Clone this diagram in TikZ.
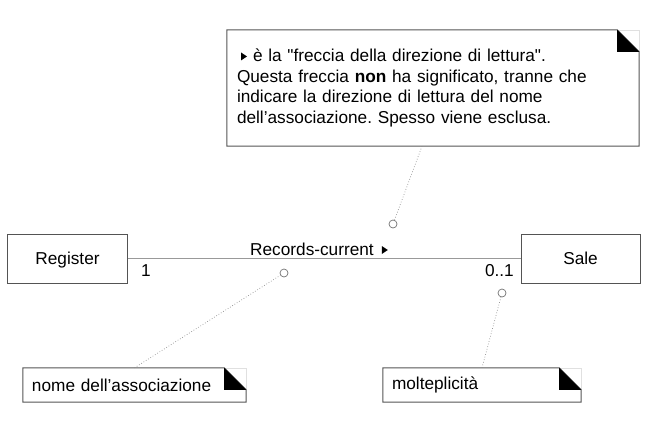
\documentclass[tikz,border=0pt]{standalone}
\usepackage{fontspec}
\newfontfamily\umlfont{Liberation Sans}
\usetikzlibrary{calc}
\frenchspacing
\def\readarrow{\tikz[x=1bp,y=1bp,baseline=0pt]\fill[black] (0,1.5) -- (0,9.5) -- (6,5.5) -- cycle;}
\def\dogear(#1)(#2){\draw[black!12, line width=0.6bp] ([xshift=-#2]#1.north east) -- (#1.north east) -- ([yshift=-#2]#1.north east);
	\draw[noteedge] (#1.north west) -- ([xshift=-#2]#1.north east) -- ([yshift=-#2]#1.north east) -- (#1.south east) -- (#1.south west) -- cycle;
	\fill[black] ([xshift=-#2]#1.north east) -- ([xshift=-#2,yshift=-#2]#1.north east) -- ([yshift=-#2]#1.north east) -- cycle;}
\tikzset{
	classbox/.style={draw=black!67, line width=1bp, minimum width=119bp, minimum height=49bp, inner sep=0pt, text height=12.4bp, text depth=0bp},
	notebox/.style={inner ysep=0pt, inner xsep=10bp, align=left},
	noteedge/.style={draw=black!67, line width=1bp},
	assocline/.style={draw=black!40, line width=1.3bp},
	hookpt/.style={circle, draw=black!55, fill=white, line width=0.7bp, minimum size=8bp, inner sep=0pt},
	noteline/.style={draw=black!45, line width=0.7bp, dotted},
	rolelabel/.style={inner sep=0pt}
}

\begin{document}
\begin{tikzpicture}[x=1bp, y=-1bp, every node/.style={font=\umlfont\fontsize{17.3}{20.5}\selectfont}]
			%%%%% START %%%%%
			\useasboundingbox (0,0) rectangle (649,423);
			
			\node[classbox] (register) at (67.5,258.5) {Register};
			\node[classbox] (sale) at (580.5,258.5) {Sale};
			\draw[assocline] (register.east) -- (sale.west);
			
			\node[rolelabel, anchor=base west] (assocname) at (250,255.5) {Records-current\hspace{8bp}\readarrow};
			\node[rolelabel, anchor=base west] (regmult) at (141,276) {1};
			\node[rolelabel, anchor=base east] (salemult) at (514,276) {0..1};
			
			\node[notebox, text width=392bp, minimum width=412bp, minimum height=116bp] (readnote) at (433,88) {\hspace*{4bp}\readarrow\hspace{6bp}è la "freccia della direzione di lettura".\\ Questa freccia \textbf{non} ha significato, tranne che\\ indicare la direzione di lettura del nome\\ dell’associazione. Spesso viene esclusa.};
			\node[notebox, inner xsep=9bp, text width=205bp, minimum width=223bp, minimum height=34bp] (namenote) at (134.5,385) {nome dell’associazione};
			\node[notebox, inner xsep=9bp, text width=180bp, minimum width=198bp, minimum height=34bp] (multnote) at (482,385) {molteplicità};
			\dogear(readnote)(22bp)
			\dogear(namenote)(22bp)
			\dogear(multnote)(22bp)
			
			\node[hookpt] (hookread) at (393,224) {};
			\node[hookpt] (hookname) at (284,273) {};
			\node[hookpt] (hookmult) at (502,293) {};
			
			\draw[noteline] ([xshift=-11bp]readnote.south) -- (hookread);
			\draw[noteline] (namenote.north) -- (hookname);
			\draw[noteline] (multnote.north) -- (hookmult);
			%%%%% END %%%%%
\end{tikzpicture}
\end{document}
